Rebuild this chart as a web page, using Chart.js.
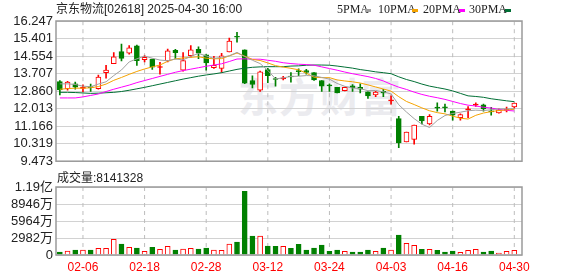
<!DOCTYPE html>
<html>
<head>
<meta charset="utf-8">
<script src="https://cdn.jsdelivr.net/npm/chart.js@4/dist/chart.umd.min.js"></script>
<style>
  body { margin: 0; background: #fff; width: 578px; height: 276px; overflow: hidden; position: relative;
         font-family: "Liberation Sans", Arial, "Noto Sans CJK SC", sans-serif; color: #222; }
  canvas { position: absolute; left: 0; }
  #priceCanvas { top: 0; }
  #volCanvas { top: 172px; }
  .txt { position: absolute; white-space: nowrap; }
  #title { left: 56px; top: 3px; font-size: 12px; line-height: 12px; }
  #volTitle { left: 57px; top: 172px; font-size: 12px; line-height: 12px; }
  .lg { position: absolute; top: 3px; font-family: "Liberation Serif", serif; font-size: 12px; line-height: 12px; }
  .dash { position: absolute; top: 9px; width: 6px; height: 3px; }
  #watermark { left: 238px; top: 66px; font-size: 40px; font-weight: bold; color: #ebebef; letter-spacing: 1px; }
</style>
</head>
<body>
<div id="watermark" class="txt">东方财富</div>
<canvas id="priceCanvas" width="578" height="172"></canvas>
<canvas id="volCanvas" width="578" height="104"></canvas>
<div id="title" class="txt">京东物流[02618] 2025-04-30 16:00</div>
<div id="volTitle" class="txt">成交量:8141328</div>
<div class="lg" style="left:337px">5PMA</div><div class="dash" style="left:365px;background:#a0a0a0"></div>
<div class="lg" style="left:378px">10PMA</div><div class="dash" style="left:412px;background:#f5a300"></div>
<div class="lg" style="left:423px">20PMA</div><div class="dash" style="left:459px;background:#ff00ff"></div>
<div class="lg" style="left:469px">30PMA</div><div class="dash" style="left:505px;background:#006f35"></div>
<script>
// ─── Data ───────────────────────────────────────────────────────────────────
const DATES = [
    "02-03","02-04","02-05","02-06","02-07","02-10","02-11","02-12","02-13","02-14",
    "02-17","02-18","02-19","02-20","02-21","02-24","02-25","02-26","02-27","02-28",
    "03-03","03-04","03-05","03-06","03-07","03-10","03-11","03-12","03-13","03-14",
    "03-17","03-18","03-19","03-20","03-21","03-24","03-25","03-26","03-27","03-28",
    "03-31","04-01","04-02","04-03","04-07","04-08","04-09","04-10","04-11","04-14",
    "04-15","04-16","04-17","04-22","04-23","04-24","04-25","04-28","04-29","04-30"
];
const DATE_TICKS = [3, 11, 19, 27, 35, 43, 51, 59];

const OPEN = [
    13.32, 12.98, 13.21, 12.99, 13.08, 12.98, 13.75, 14.19, 14.77, 14.69,
    15.05, 14.38, 14.41, 14.00, 14.32, 14.83, 13.87, 14.57, 14.88, 14.61,
    13.99, 13.96, 14.75, 15.51, 14.86, 13.37, 12.91, 13.90, 13.46, 13.45,
    13.58, 13.85, 13.85, 13.76, 13.37, 13.16, 13.04, 12.88, 13.12, 13.04,
    12.82, 12.67, 12.85, 12.39, 11.53, 10.41, 10.53, 11.64, 11.27, 12.09,
    12.10, 11.89, 11.58, 11.95, 12.18, 12.20, 11.91, 11.81, 11.93, 12.09
];
const HIGH = [
    13.37, 13.33, 13.29, 13.16, 13.20, 13.63, 14.11, 14.72, 15.13, 15.06,
    15.08, 14.58, 14.41, 14.25, 14.89, 14.88, 14.72, 15.06, 15.00, 14.63,
    14.54, 14.69, 15.42, 15.70, 14.86, 13.60, 13.83, 13.96, 13.52, 13.57,
    13.76, 13.94, 13.91, 13.76, 13.37, 13.21, 13.04, 13.05, 13.17, 13.21,
    12.82, 12.85, 12.95, 12.63, 11.64, 10.88, 11.22, 11.64, 11.73, 12.29,
    12.23, 11.89, 11.76, 12.11, 12.29, 12.23, 12.07, 12.00, 12.09, 12.28
];
const LOW = [
    12.67, 12.90, 12.95, 12.82, 12.85, 12.95, 13.48, 14.19, 14.32, 14.64,
    14.10, 14.27, 13.91, 13.68, 14.27, 14.41, 13.82, 14.50, 14.43, 13.87,
    13.96, 13.76, 14.75, 15.22, 13.22, 13.01, 12.85, 13.27, 13.10, 13.40,
    13.29, 13.60, 13.68, 13.38, 12.85, 12.85, 12.77, 12.87, 12.85, 12.77,
    12.51, 12.59, 12.59, 12.23, 10.13, 10.41, 10.30, 11.27, 11.23, 11.89,
    11.86, 11.45, 11.45, 11.58, 12.12, 11.89, 11.70, 11.79, 11.86, 12.04
];
const CLOSE = [
    12.92, 13.30, 13.05, 13.06, 13.03, 13.54, 13.88, 14.52, 14.44, 14.95,
    14.33, 14.49, 14.02, 14.05, 14.80, 14.72, 14.33, 14.85, 14.69, 14.22,
    14.10, 14.57, 15.28, 15.46, 13.24, 13.18, 13.79, 13.60, 13.42, 13.50,
    13.54, 13.80, 13.76, 13.40, 13.10, 13.11, 12.77, 13.04, 13.01, 12.95,
    12.63, 12.81, 12.77, 12.44, 10.36, 10.88, 11.22, 11.42, 11.64, 12.04,
    12.05, 11.70, 11.73, 12.00, 12.23, 12.00, 11.86, 11.95, 11.98, 12.28
];

const MA5 = [
    13.21, 13.21, 13.18, 13.10, 13.07, 13.20, 13.31, 13.61, 13.88, 14.27,
    14.42, 14.55, 14.45, 14.36, 14.33, 14.41, 14.37, 14.54, 14.68, 14.56,
    14.44, 14.49, 14.57, 14.73, 14.53, 14.35, 14.19, 13.86, 13.45, 13.50,
    13.57, 13.58, 13.61, 13.60, 13.52, 13.44, 13.23, 13.09, 13.01, 12.98,
    12.88, 12.89, 12.83, 12.72, 12.20, 11.85, 11.53, 11.26, 11.10, 11.44,
    11.68, 11.78, 11.84, 11.91, 11.94, 11.92, 11.96, 12.00, 12.00, 12.01
];
const MA10 = [
    12.95, 12.98, 13.00, 13.00, 13.02, 13.08, 13.20, 13.38, 13.52, 13.67,
    13.81, 13.93, 14.03, 14.12, 14.30, 14.42, 14.46, 14.49, 14.52, 14.45,
    14.42, 14.43, 14.56, 14.70, 14.55, 14.39, 14.34, 14.22, 14.09, 14.02,
    13.96, 13.89, 13.73, 13.53, 13.51, 13.51, 13.40, 13.35, 13.31, 13.25,
    13.16, 13.06, 12.96, 12.86, 12.59, 12.36, 12.21, 12.05, 11.91, 11.82,
    11.76, 11.65, 11.55, 11.51, 11.69, 11.80, 11.87, 11.92, 11.95, 11.98
];
const MA20 = [
    12.53, 12.53, 12.53, 12.58, 12.65, 12.72, 12.84, 12.95, 13.05, 13.15,
    13.27, 13.37, 13.47, 13.57, 13.67, 13.77, 13.85, 13.92, 13.99, 14.06,
    14.12, 14.18, 14.29, 14.41, 14.42, 14.40, 14.40, 14.35, 14.30, 14.23,
    14.19, 14.16, 14.14, 14.11, 14.03, 13.95, 13.87, 13.78, 13.70, 13.63,
    13.56, 13.47, 13.35, 13.19, 13.05, 12.94, 12.81, 12.70, 12.61, 12.54,
    12.46, 12.36, 12.26, 12.18, 12.14, 12.08, 12.04, 11.98, 11.93, 11.90
];
const MA30 = [
    12.80, 12.80, 12.79, 12.77, 12.75, 12.76, 12.78, 12.80, 12.84, 12.90,
    12.97, 13.04, 13.12, 13.20, 13.28, 13.36, 13.44, 13.51, 13.58, 13.64,
    13.69, 13.75, 13.83, 13.91, 13.97, 14.01, 14.03, 14.04, 14.04, 14.04,
    14.07, 14.08, 14.11, 14.12, 14.12, 14.11, 14.07, 14.02, 13.97, 13.90,
    13.85, 13.79, 13.75, 13.70, 13.55, 13.42, 13.32, 13.20, 13.10, 13.03,
    12.96, 12.87, 12.75, 12.63, 12.60, 12.56, 12.49, 12.44, 12.39, 12.35
];

// volume, in units of 万 shares
const VOLUME = [
    524, 698, 873, 873, 873, 1164, 1164, 2735, 1920, 1339,
    1222, 640, 1339, 990, 1513, 873, 1048, 1164, 1048, 1222,
    873, 815, 1920, 2270, 11174, 3317, 3317, 1571, 1513, 1513,
    1164, 1862, 873, 1222, 1746, 640, 873, 640, 524, 524,
    873, 640, 1222, 873, 3492, 2037, 1688, 990, 990, 815,
    524, 698, 466, 815, 990, 524, 698, 349, 640, 814
];

const PRICE_TICKS = [9.473, 10.319, 11.166, 12.013, 12.860, 13.707, 14.554, 15.401, 16.247];
const VOL_TICKS = [0, 2982, 5964, 8946, 11928];
const VOL_TICK_LABELS = ["0", "2982万", "5964万", "8946万", "1.19亿"];

// ─── Styles ─────────────────────────────────────────────────────────────────
const UP = "#ff0000";
const DOWN = "#008000";
const GRID = "#d2d2d2";
const VGRID = "#bdbdbd";
const FRAME = "#9a9a9a";
const AXIS_FONT = { family: "Liberation Sans, Arial, Noto Sans CJK SC", size: 13 };

const isUp = i => CLOSE[i] >= OPEN[i];
const idx = DATES.map((d, i) => i);

// grey box round the plot area
const framePlugin = {
    id: "frame",
    afterDraw(chart) {
        const ctx = chart.ctx;
        const a = chart.chartArea;
        ctx.save();
        ctx.strokeStyle = FRAME;
        ctx.lineWidth = 1.5;
        ctx.strokeRect(a.left, a.top, a.right - a.left, a.bottom - a.top);
        ctx.restore();
    }
};

// one dashed vertical line dataset per date tick, spanning the y range
function dateLines(yMin, yMax) {
    return DATE_TICKS.map(v => ({
        type: "line",
        data: [{ x: v, y: yMin }, { x: v, y: yMax }],
        borderColor: VGRID,
        borderWidth: 1,
        borderDash: [4, 4],
        pointRadius: 0,
        order: 5,
    }));
}

function xScale(showLabels) {
    return {
        type: "linear",
        min: -0.5,
        max: 60,
        offset: false,
        afterBuildTicks: axis => { axis.ticks = DATE_TICKS.map(v => ({ value: v })); },
        afterFit: s => { s.height = showLabels ? 21 : 0; },
        border: { display: false },
        grid: { display: false, drawTicks: false, offset: false },
        ticks: {
            display: showLabels,
            autoSkip: false,
            maxRotation: 0,
            color: UP,
            padding: 5,
            font: { family: "Liberation Sans, Arial", size: 12 },
            callback: v => DATES[v],
        },
    };
}

function yScale(min, max, tickValues, label) {
    return {
        min: min,
        max: max,
        afterBuildTicks: axis => { axis.ticks = tickValues.map(v => ({ value: v })); },
        afterFit: s => { s.width = 56; },
        border: { display: false },
        grid: { color: GRID, drawTicks: false },
        ticks: {
            autoSkip: false,
            color: "#222",
            padding: 3,
            font: AXIS_FONT,
            callback: label,
        },
    };
}

// ─── Price chart ────────────────────────────────────────────────────────────
function maLine(data, color) {
    return {
        type: "line",
        data: idx.map(i => ({ x: i, y: data[i] })),
        borderColor: color,
        borderWidth: 1,
        pointRadius: 0,
        tension: 0,
        order: 0,
    };
}

new Chart(document.getElementById("priceCanvas"), {
    type: "bar",
    data: {
        datasets: [
            maLine(MA5, "#a0a0a0"),
            maLine(MA10, "#f5a300"),
            maLine(MA20, "#ff00ff"),
            maLine(MA30, "#006f35"),
            {
                // candle bodies
                data: idx.map(i => ({ x: i, y: [OPEN[i], CLOSE[i]] })),
                backgroundColor: idx.map(i => isUp(i) ? (CLOSE[i] - OPEN[i] < 0.08 ? UP : "#ffffff") : DOWN),
                borderColor: idx.map(i => isUp(i) ? UP : DOWN),
                borderWidth: 1,
                borderSkipped: false,
                barThickness: 5,
                minBarLength: 1,
                grouped: false,
                order: 1,
            },
            {
                // wicks
                data: idx.map(i => ({ x: i, y: [LOW[i], HIGH[i]] })),
                backgroundColor: idx.map(i => isUp(i) ? UP : DOWN),
                borderWidth: 0,
                barThickness: 1,
                grouped: false,
                order: 2,
            },
            ...dateLines(9.473, 16.247),
        ],
    },
    options: {
        responsive: false,
        animation: false,
        layout: { padding: { left: 0, right: 56, top: 21, bottom: 7 } },
        plugins: { legend: { display: false }, tooltip: { enabled: false } },
        scales: {
            x: xScale(false),
            y: yScale(9.473, 16.247, PRICE_TICKS, v => v.toFixed(3)),
        },
    },
    plugins: [framePlugin],
});

// ─── Volume chart ───────────────────────────────────────────────────────────
new Chart(document.getElementById("volCanvas"), {
    type: "bar",
    data: {
        datasets: [
            {
                data: idx.map(i => ({ x: i, y: VOLUME[i] })),
                backgroundColor: idx.map(i => isUp(i) ? "#ffffff" : DOWN),
                borderColor: idx.map(i => isUp(i) ? UP : DOWN),
                borderWidth: 1,
                borderSkipped: "start",
                barThickness: 5,
                order: 1,
            },
            ...dateLines(0, 11928),
        ],
    },
    options: {
        responsive: false,
        animation: false,
        layout: { padding: { left: 0, right: 56, top: 15, bottom: 0 } },
        plugins: { legend: { display: false }, tooltip: { enabled: false } },
        scales: {
            x: xScale(true),
            y: yScale(0, 11928, VOL_TICKS, (v, i) => VOL_TICK_LABELS[i]),
        },
    },
    plugins: [framePlugin],
});
</script>
</body>
</html>
